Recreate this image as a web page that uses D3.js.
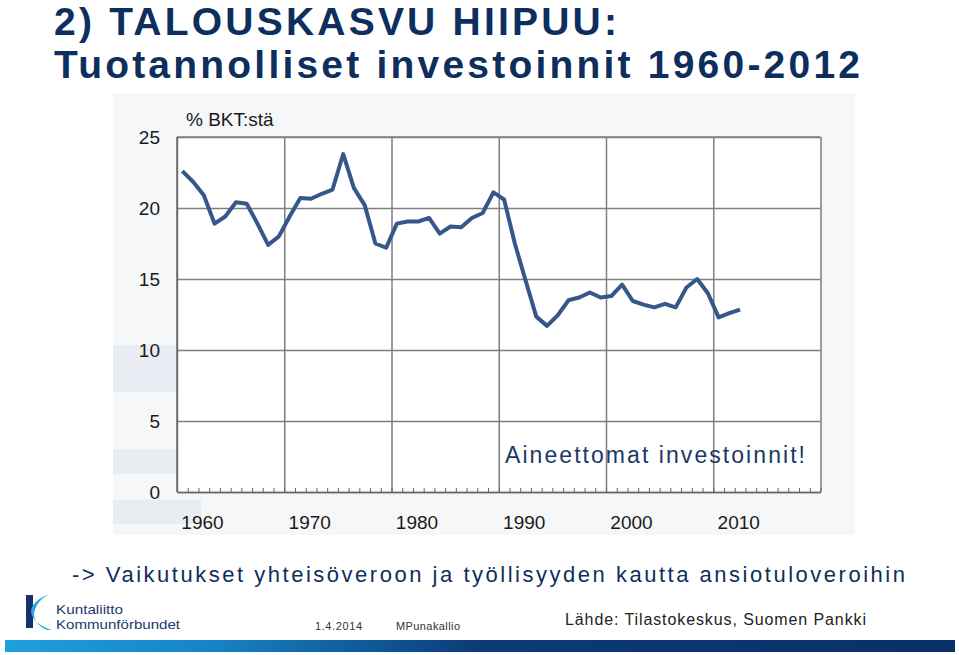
<!DOCTYPE html>
<html>
<head>
<meta charset="utf-8">
<script src="https://cdn.jsdelivr.net/npm/d3@7"></script>
<style>
  html, body { margin: 0; padding: 0; background: #ffffff; }
  svg { display: block; }
  text { font-family: "Liberation Sans", Arial, sans-serif; }
</style>
</head>
<body>
<svg id="chart" width="959" height="655"></svg>
<script>
// ---- data ----
const years = d3.range(1960, 2013);
const investmentShare = [
  22.6, 21.85, 20.9, 18.9, 19.4, 20.4, 20.3, 18.9, 17.4, 18.0,
  19.4, 20.7, 20.65, 21.0, 21.3, 23.8, 21.4, 20.2, 17.5, 17.2,
  18.9, 19.05, 19.05, 19.3, 18.2, 18.7, 18.65, 19.3, 19.65, 21.1,
  20.6, 17.5, 14.9, 12.35, 11.7, 12.45, 13.5, 13.7, 14.05, 13.7,
  13.8, 14.6, 13.45, 13.2, 13.0, 13.25, 13.0, 14.4, 15.0, 14.0,
  12.3, 12.6, 12.85
];
const yTicks = [0, 5, 10, 15, 20, 25];
const decadeLabels = [1960, 1970, 1980, 1990, 2000, 2010];
const axisYears = d3.range(1960, 2020);

const titleLines = ["2) TALOUSKASVU HIIPUU:", "Tuotannolliset investoinnit 1960-2012"];
const unitLabel = "% BKT:stä";
const annotation = "Aineettomat investoinnit!";
const subtitle = "-> Vaikutukset yhteisöveroon ja työllisyyden kautta ansiotuloveroihin";
const source = "Lähde: Tilastokeskus, Suomen Pankki";
const footDate = "1.4.2014";
const footAuthor = "MPunakallio";
const orgNames = ["Kuntaliitto", "Kommunförbundet"];

// ---- layout ----
const svg = d3.select("#chart");
const plot = { left: 177, right: 820.5, top: 137, bottom: 492 };

const x = d3.scaleLinear().domain([1959.5, 2019.5]).range([plot.left, plot.right]);
const y = d3.scaleLinear().domain([0, 25]).range([plot.bottom, plot.top]);

// gradient for bottom bar
const defs = svg.append("defs");
const grad = defs.append("linearGradient").attr("id", "barGrad")
  .attr("x1", "0%").attr("x2", "100%").attr("y1", "0%").attr("y2", "0%");
grad.append("stop").attr("offset", "0%").attr("stop-color", "#1fa0da");
grad.append("stop").attr("offset", "22%").attr("stop-color", "#1683c4");
grad.append("stop").attr("offset", "50%").attr("stop-color", "#0c3a78");
grad.append("stop").attr("offset", "100%").attr("stop-color", "#0a2f69");

// chart image background
svg.append("rect").attr("x", 113).attr("y", 93).attr("width", 742).attr("height", 442)
  .attr("fill", "#f6f7f9");
[[345, 47, 64], [449, 25, 64], [500, 24, 88]].forEach(([py, ph, pw]) => {
  svg.append("rect").attr("x", 113).attr("y", py).attr("width", pw).attr("height", ph)
    .attr("fill", "#e9edf3");
});

// plot area
svg.append("rect").attr("x", plot.left).attr("y", plot.top)
  .attr("width", plot.right - plot.left).attr("height", plot.bottom - plot.top)
  .attr("fill", "#ffffff");

// horizontal gridlines + y labels
const yAxis = d3.axisLeft(y).tickValues(yTicks)
  .tickSize(-(plot.right - plot.left)).tickPadding(17);
const gy = svg.append("g").attr("transform", `translate(${plot.left},0)`).call(yAxis);
gy.select(".domain").remove();
gy.selectAll(".tick line").attr("stroke", "#7f7f7f").attr("stroke-width", 1.5);
gy.selectAll(".tick text").attr("font-size", 19).attr("fill", "#1a1a1a")
  .attr("dy", "0.36em");

// vertical gridlines at decade boundaries
const xGrid = d3.axisBottom(x).tickValues(decadeLabels.map(d => d - 0.5).concat([2019.5]))
  .tickSize(-(plot.bottom - plot.top)).tickFormat("");
const gxg = svg.append("g").attr("transform", `translate(0,${plot.bottom})`).call(xGrid);
gxg.select(".domain").remove();
gxg.selectAll(".tick line").attr("stroke", "#7f7f7f").attr("stroke-width", 1.5);

// top border
svg.append("line").attr("x1", plot.left).attr("x2", plot.right)
  .attr("y1", plot.top).attr("y2", plot.top).attr("stroke", "#7f7f7f").attr("stroke-width", 1.5);

// minor ticks (each year boundary, pointing inward)
const xMinor = d3.axisBottom(x).tickValues(axisYears.map(d => d + 0.5))
  .tickSize(-4).tickSizeOuter(0).tickFormat("");
const gxm = svg.append("g").attr("transform", `translate(0,${plot.bottom})`).call(xMinor);
gxm.selectAll(".tick line").attr("stroke", "#666").attr("stroke-width", 1);
gxm.select(".domain").attr("stroke", "#666").attr("stroke-width", 1.5);

// left axis line
svg.append("line").attr("x1", plot.left).attr("x2", plot.left)
  .attr("y1", plot.top).attr("y2", plot.bottom).attr("stroke", "#666").attr("stroke-width", 1.5);

// decade labels
const xLab = d3.axisBottom(x).tickValues(decadeLabels.map(d => d - 0.5))
  .tickSize(0).tickPadding(24).tickFormat((d, i) => decadeLabels[i]);
const gxl = svg.append("g").attr("transform", `translate(0,${plot.bottom})`).call(xLab);
gxl.select(".domain").remove();
gxl.selectAll(".tick text").attr("font-size", 19).attr("fill", "#1a1a1a")
  .attr("dx", 25);

// unit label
svg.append("text").attr("x", 186).attr("y", 126).attr("font-size", 19)
  .attr("fill", "#1a1a1a").text(unitLabel);

// data line
const line = d3.line().x((d, i) => x(years[i])).y(d => y(d));
svg.append("path").datum(investmentShare)
  .attr("d", line).attr("fill", "none")
  .attr("stroke", "#35578c").attr("stroke-width", 4)
  .attr("stroke-linejoin", "round").attr("stroke-linecap", "butt");

// annotation
svg.append("text").attr("x", 505).attr("y", 463).attr("font-size", 23)
  .attr("fill", "#1b3866").attr("textLength", 300).attr("lengthAdjust", "spacing")
  .text(annotation);

// title
svg.append("text").attr("x", 54).attr("y", 35).attr("font-size", 39)
  .attr("font-weight", "bold").attr("fill", "#0e2f5e")
  .attr("textLength", 563).attr("lengthAdjust", "spacing").text(titleLines[0]);
svg.append("text").attr("x", 54).attr("y", 78).attr("font-size", 39)
  .attr("font-weight", "bold").attr("fill", "#0e2f5e")
  .attr("textLength", 806).attr("lengthAdjust", "spacing").text(titleLines[1]);

// subtitle
svg.append("text").attr("x", 72).attr("y", 582).attr("font-size", 22)
  .attr("fill", "#102e5c").attr("textLength", 833).attr("lengthAdjust", "spacing")
  .text(subtitle);

// source
svg.append("text").attr("x", 565).attr("y", 625).attr("font-size", 16)
  .attr("fill", "#222").attr("textLength", 301).attr("lengthAdjust", "spacing")
  .text(source);

// footer small texts
svg.append("text").attr("x", 315).attr("y", 630).attr("font-size", 11)
  .attr("fill", "#333").attr("textLength", 47).attr("lengthAdjust", "spacing").text(footDate);
svg.append("text").attr("x", 396).attr("y", 630).attr("font-size", 11)
  .attr("fill", "#333").attr("textLength", 64).attr("lengthAdjust", "spacing").text(footAuthor);

// logo
svg.append("rect").attr("x", 26).attr("y", 595).attr("width", 7).attr("height", 33)
  .attr("fill", "#13336b");
svg.append("path")
  .attr("d", "M50,594 C38,598 31,605 31,612 C32,620 41,627 52,630 L47,630 C40,627 35,622 34,616 C34,606 41,598 50,594 Z")
  .attr("fill", "#2aa6dc");
svg.append("text").attr("x", 56).attr("y", 614).attr("font-size", 13)
  .attr("fill", "#1c3a6e").attr("textLength", 67).attr("lengthAdjust", "spacingAndGlyphs")
  .text(orgNames[0]);
svg.append("text").attr("x", 56).attr("y", 629).attr("font-size", 13)
  .attr("fill", "#1c3a6e").attr("textLength", 124).attr("lengthAdjust", "spacingAndGlyphs")
  .text(orgNames[1]);

// bottom bar
svg.append("rect").attr("x", 5).attr("y", 640).attr("width", 950).attr("height", 12)
  .attr("fill", "url(#barGrad)");
</script>
</body>
</html>
